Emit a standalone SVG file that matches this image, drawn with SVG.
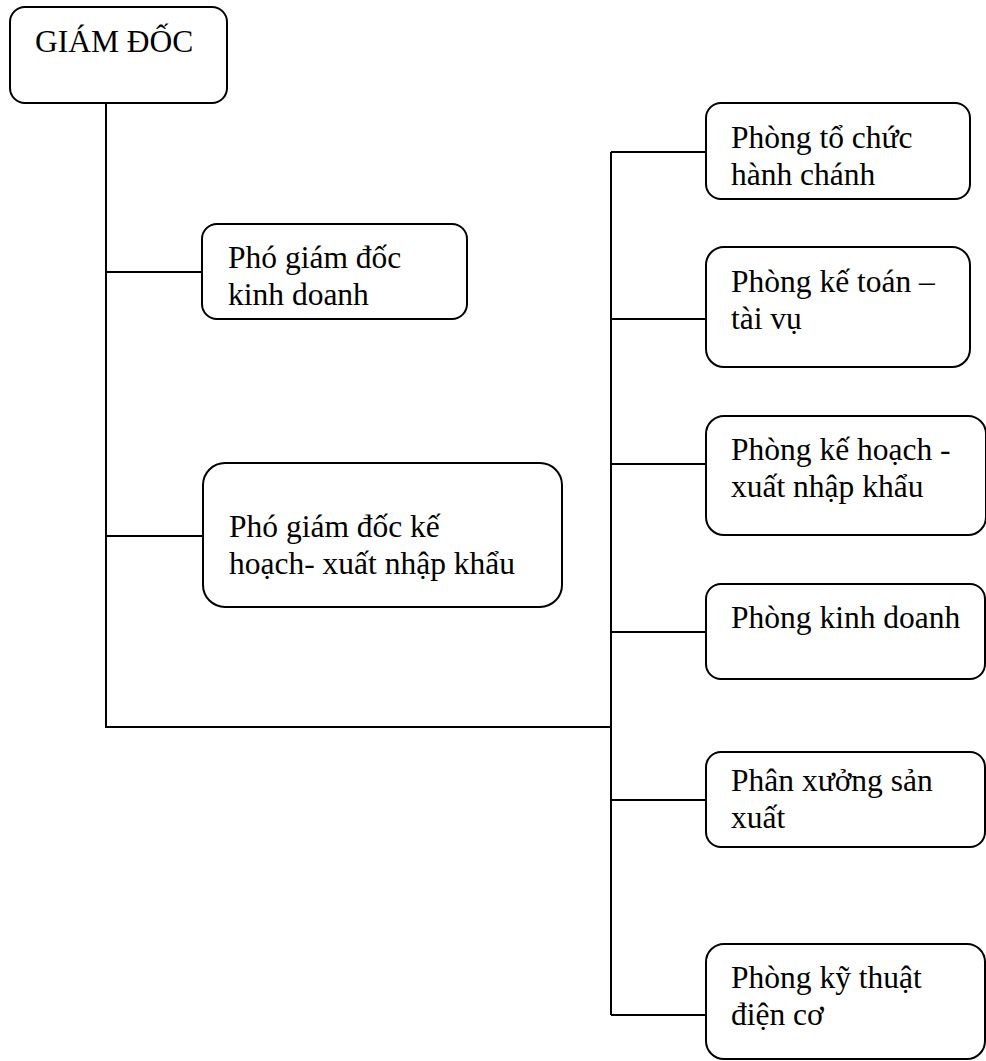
<svg xmlns="http://www.w3.org/2000/svg" width="986" height="1061" viewBox="0 0 986 1061">
<style>
.box{fill:#fff;stroke:#000;stroke-width:2}
.t{font-family:"Liberation Serif","Times New Roman",serif;font-size:31.5px;fill:#000}
.c{fill:none;stroke:#000;stroke-width:2}
</style>
<rect width="986" height="1061" fill="#fff"/>
<g id="connectors">
<path class="c" d="M106 103V727H611M106 272H202M106 536H203"/>
<path class="c" d="M611 152V1015M611 152H706M611 319H706M611 464H706M611 632H706M611 800H706M611 1015H706"/>
</g>
<g id="giam-doc">
<rect class="box" x="10" y="7" width="217" height="96" rx="15"/>
<text class="t" x="35" y="52">GIÁM ĐỐC</text>
</g>
<g id="pgd-kinh-doanh">
<rect class="box" x="202" y="224" width="265" height="95" rx="15"/>
<text class="t" x="228" y="268">Phó giám đốc</text>
<text class="t" x="228" y="305">kinh doanh</text>
</g>
<g id="pgd-ke-hoach">
<rect class="box" x="203" y="463" width="359" height="144" rx="22"/>
<text class="t" x="229" y="537">Phó giám đốc kế</text>
<text class="t" x="229" y="574">hoạch- xuất nhập khẩu</text>
</g>
<g id="phong-to-chuc">
<rect class="box" x="706" y="103" width="264" height="96" rx="15"/>
<text class="t" x="731" y="148">Phòng tổ chức</text>
<text class="t" x="731" y="185">hành chánh</text>
</g>
<g id="phong-ke-toan">
<rect class="box" x="706" y="247" width="264" height="120" rx="18"/>
<text class="t" x="731" y="292">Phòng kế toán –</text>
<text class="t" x="731" y="329">tài vụ</text>
</g>
<g id="phong-ke-hoach">
<rect class="box" x="706" y="416" width="280" height="119" rx="18"/>
<text class="t" x="731" y="460">Phòng kế hoạch -</text>
<text class="t" x="731" y="497">xuất nhập khẩu</text>
</g>
<g id="phong-kinh-doanh">
<rect class="box" x="706" y="584" width="279" height="95" rx="15"/>
<text class="t" x="731" y="628">Phòng kinh doanh</text>
</g>
<g id="phan-xuong">
<rect class="box" x="706" y="752" width="279" height="95" rx="15"/>
<text class="t" x="731" y="791">Phân xưởng sản</text>
<text class="t" x="731" y="828">xuất</text>
</g>
<g id="phong-ky-thuat">
<rect class="box" x="706" y="944" width="279" height="115" rx="18"/>
<text class="t" x="731" y="988">Phòng kỹ thuật</text>
<text class="t" x="731" y="1025">điện cơ</text>
</g>
</svg>
